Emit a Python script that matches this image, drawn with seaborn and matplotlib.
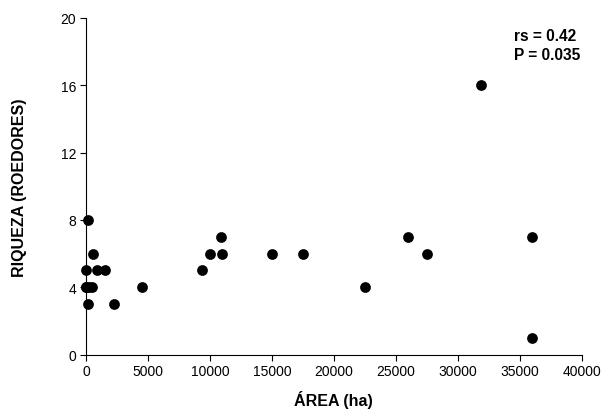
import numpy as np
import pandas as pd
import matplotlib
matplotlib.use("Agg")
import matplotlib.pyplot as plt
import seaborn as sns

# area (ha) and rodent richness
area = [0, 0, 150, 590, 860, 1530, 0, 270, 460, 130, 2250, 4540,
        9400, 10010, 10870, 10980, 15000, 17500, 22500, 26000, 27500,
        31850, 36000, 36000]
riqueza = [4, 5, 8, 6, 5, 5, 4, 4, 4, 3, 3, 4,
           5, 6, 7, 6, 6, 6, 4, 7, 6,
           16, 7, 1]

df = pd.DataFrame({"area": area, "riqueza": riqueza})

sns.set_style("ticks", {"text.color": "black", "axes.labelcolor": "black",
                        "xtick.color": "black", "ytick.color": "black",
                        "axes.edgecolor": "black"})
plt.rcParams['font.family'] = ['Liberation Sans', 'DejaVu Sans']

fig = plt.figure(figsize=(6.01, 4.10), dpi=100)
ax = fig.add_axes([0.143, 0.1325, 0.825, 0.8215])
sns.scatterplot(x="area", y="riqueza", data=df, color="black", s=60,
                edgecolor="black", linewidth=0, ax=ax, clip_on=False)

ax.set_xlim(0, 40000)
ax.set_ylim(0, 20)
ax.set_xticks(np.arange(0, 40001, 5000))
ax.set_yticks(np.arange(0, 21, 4))
ax.tick_params(labelsize=10, length=4, width=0.8, color="black", pad=3)
for sp in ["left", "bottom"]:
    ax.spines[sp].set_linewidth(0.8)
sns.despine(ax=ax)

ax.set_xlabel("ÁREA (ha)", fontsize=11.5, fontweight="bold", labelpad=8)
ax.set_ylabel("RIQUEZA (ROEDORES)", fontsize=11.5, fontweight="bold", labelpad=24)

# stats box, upper right
ax.text(0.864, 0.97, "rs = 0.42\nP = 0.035", transform=ax.transAxes,
        fontsize=11.2, fontweight="bold", ha="left", va="top", linespacing=1.3)

plt.savefig("out.png", dpi=100)
